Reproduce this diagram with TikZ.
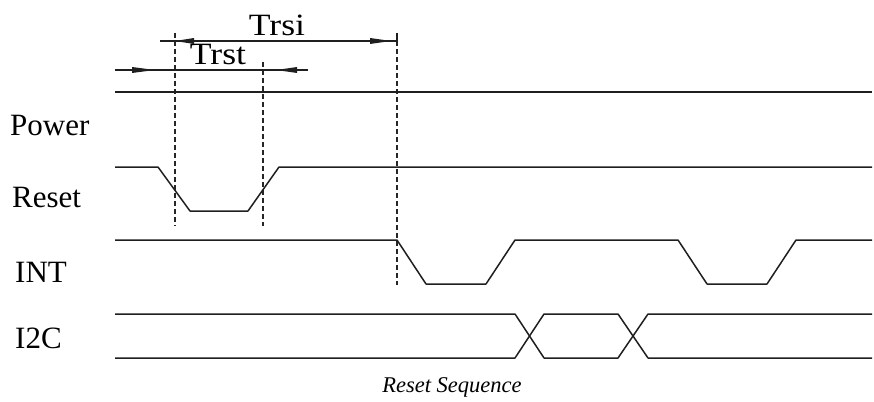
\documentclass[tikz,border=0pt]{standalone}
\usepackage{fontspec}
\setmainfont{Liberation Serif}
\newfontfamily\widefont[FakeStretch=1.15]{Liberation Serif}
\begin{document}
\begin{tikzpicture}[x=1pt,y=-1pt,
  sig/.style={line width=1.5pt, line join=round, color=black!88},
  guide/.style={line width=1.3pt, dash pattern=on 5pt off 3pt, color=black!85},
  dim/.style={line width=1.3pt, color=black!88},
  head/.style={fill=black!88},
  lbl/.style={font=\fontsize{31}{31}\selectfont, inner sep=0pt, anchor=base west},
  dimlbl/.style={font=\widefont\fontsize{31}{31}\selectfont, inner sep=0pt, anchor=base},
  ]
\useasboundingbox (0,0) rectangle (874,401);

% named reference coordinates
\coordinate (rstA) at (175,41);
\coordinate (rsiB) at (397,41);

% signal labels
\node[lbl] (lpower) at (10,135) {Power};
\node[lbl] (lreset) at (12,207) {Reset};
\node[lbl] (lint)   at (15,282) {INT};
\node[lbl] (li2c)   at (15,348) {I2C};

% timing labels
\node[dimlbl] (ltrsi) at (277,36) {Trsi};
\node[dimlbl] (ltrst) at (218,65) {Trst};
\node[inner sep=0pt, anchor=base, font=\fontsize{22.5}{22.5}\selectfont\itshape] (title) at (452,392) {Reset Sequence};

% guide lines
\draw[guide] (175,33) -- (175,226);
\draw[guide] (263,62) -- (263,226);
\draw[guide] (397,33) -- (397,285);

% dimension lines
\draw[dim] (160,41) -- (397,41);
\draw[dim] (397,33) -- (397,43);
\fill[head] (175,41) -- (194,38) -- (194,44) -- cycle;
\fill[head] (391,41) -- (370,38) -- (370,44) -- cycle;
\draw[dim] (115,70) -- (308,70);
\fill[head] (155,70) -- (132,67) -- (132,73) -- cycle;
\fill[head] (276,70) -- (297,67) -- (297,73) -- cycle;

% signals
\draw[sig] (115,92) -- (872,92);
\draw[sig] (115,167) -- (158,167) -- (190,211) -- (248,211) -- (279,167) -- (872,167);
\draw[sig] (115,240) -- (397,240) -- (426,284) -- (486,284) -- (515,240) -- (678,240)
  -- (707,284) -- (767,284) -- (796,240) -- (872,240);
\draw[sig] (115,314) -- (515,314) -- (544,358) -- (618,358) -- (648,314) -- (872,314);
\draw[sig] (115,358) -- (515,358) -- (544,314) -- (618,314) -- (648,358) -- (872,358);
\end{tikzpicture}
\end{document}
